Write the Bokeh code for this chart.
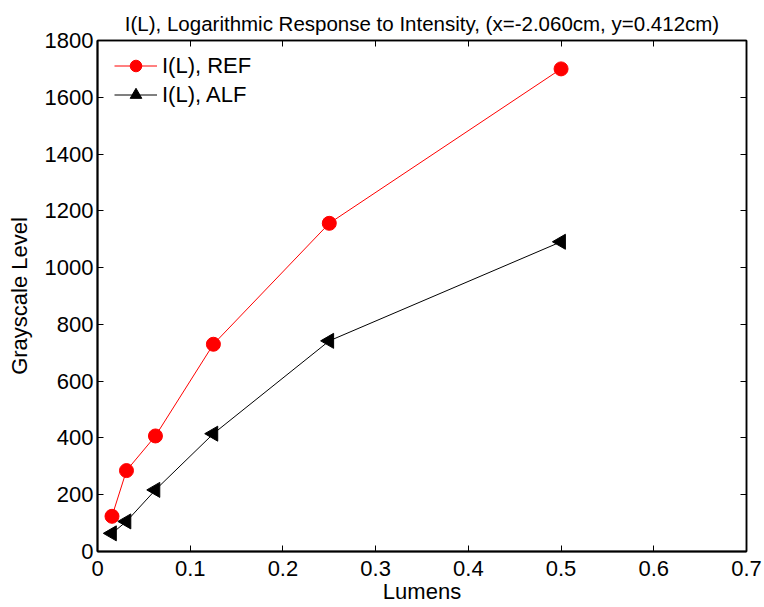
from bokeh.plotting import figure
from bokeh.models import Range1d, LinearAxis, FixedTicker, Legend
from bokeh.embed import file_html
from bokeh.resources import INLINE

# ---- data ----
lumens = [0.015625, 0.03125, 0.0625, 0.125, 0.25, 0.5]
ref_level = [124, 285, 407, 730, 1156, 1700]
alf_level = [64, 106, 217, 415, 742, 1091]
x_ticks = [0, 0.1, 0.2, 0.3, 0.4, 0.5, 0.6, 0.7]
y_ticks = [0, 200, 400, 600, 800, 1000, 1200, 1400, 1600, 1800]
title_text = "I(L), Logarithmic Response to Intensity, (x=-2.060cm, y=0.412cm)"
x_label = "Lumens"
y_label = "Grayscale Level"
ref_name = "I(L), REF"
alf_name = "I(L), ALF"

FONT = "Liberation Sans"

p = figure(width=764, height=607, output_backend="svg", toolbar_location=None,
           x_range=Range1d(0, 0.7), y_range=Range1d(0, 1800),
           min_border_left=97, min_border_right=18, min_border_top=40, min_border_bottom=56)
p.background_fill_color = "white"
p.border_fill_color = "white"
p.outline_line_color = "black"
p.outline_line_width = 1.5
p.grid.visible = False

p.title.text = title_text
p.title.align = "center"
p.title.text_font = FONT
p.title.text_font_size = "20.5px"
p.title.text_font_style = "normal"
p.title.text_color = "black"
p.title.standoff = 11

def style_axis(ax, labels=True):
    ax.major_tick_in = 6
    ax.major_tick_out = 0
    ax.minor_tick_line_color = None
    ax.major_tick_line_color = "black"
    ax.major_tick_line_width = 1
    ax.axis_line_color = "black"
    ax.major_label_text_font = FONT
    if labels:
        ax.major_label_text_color = "black"
        ax.major_label_text_font_size = "22px"
    else:
        ax.major_label_text_color = None
        ax.major_label_text_font_size = "1px"
        ax.major_label_standoff = 0

xa = p.xaxis[0]
ya = p.yaxis[0]
xa.ticker = FixedTicker(ticks=x_ticks)
ya.ticker = FixedTicker(ticks=y_ticks)
style_axis(xa)
style_axis(ya)
xa.axis_line_width = 2
ya.axis_line_width = 2
xa.major_label_standoff = 9
ya.major_label_standoff = 4
xa.major_label_overrides = {0: "0"}

for ax, lab, so in ((xa, x_label, 0), (ya, y_label, 10)):
    ax.axis_label = lab
    ax.axis_label_text_font = FONT
    ax.axis_label_text_font_size = "22px"
    ax.axis_label_text_font_style = "normal"
    ax.axis_label_text_color = "black"
    ax.axis_label_standoff = so

top_ax = LinearAxis(ticker=FixedTicker(ticks=x_ticks))
style_axis(top_ax, labels=False)
top_ax.axis_line_width = 1.5
p.add_layout(top_ax, "above")
right_ax = LinearAxis(ticker=FixedTicker(ticks=y_ticks))
style_axis(right_ax, labels=False)
right_ax.axis_line_width = 1.5
p.add_layout(right_ax, "right")

r1 = p.line(lumens, ref_level, line_color="#ff0000", line_width=1)
r2 = p.scatter(lumens, ref_level, marker="circle", size=14,
               fill_color="#ff0000", line_color="#ff0000")
r3 = p.line(lumens, alf_level, line_color="black", line_width=1)
r4 = p.scatter(lumens, alf_level, marker="triangle", size=15, angle=1.5708,
               fill_color="black", line_color="black")

legend = Legend(items=[(ref_name, [r1, r2]), (alf_name, [r3, r4])],
                location=(12, 437))
legend.margin = 0
legend.padding = 5
legend.spacing = 0
legend.glyph_width = 43
legend.glyph_height = 29
legend.label_height = 24
legend.label_standoff = 5
legend.label_text_font = FONT
legend.label_text_font_size = "22px"
legend.label_text_color = "black"
legend.border_line_alpha = 0
legend.background_fill_alpha = 0
p.add_layout(legend)

open("out.html", "w").write(file_html(p, INLINE))
